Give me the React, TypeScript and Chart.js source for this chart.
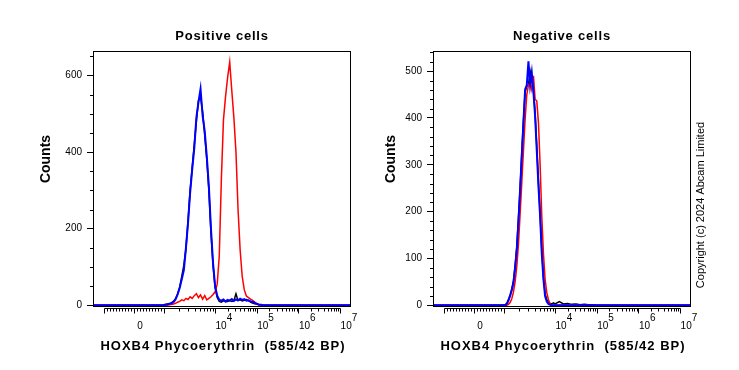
import React, { useEffect, useRef } from "react";
import { Chart, registerables } from "chart.js";

Chart.register(...registerables);

const FONT = "'Liberation Sans', Arial, Helvetica, sans-serif";

// ---- Display axis (logicle-like): positions expressed in "decades" ----
const X_MIN = 1.07;
const X_MAX = 7.26;
const ZERO_POS = 2.056; // display position of 0
const K1_POS = 2.776; // display position of 10^3

const xTickValues = [ZERO_POS, 4, 5, 6, 7];
// two-line labels: raised exponent line, then the base line
const xTickExponents = ["", "4", "5", "6", "7"];
const xTickBases = ["0", "10", "10", "10", "10"];
const xMajorMarks = [-1000, 0, 1000, 1e4, 1e5, 1e6, 1e7];

// ---- Positive cells ----
const posBins = [2.75, 2.8, 2.85, 2.9, 2.95, 3.0, 3.05, 3.1, 3.15, 3.2, 3.25, 3.3, 3.35, 3.4, 3.45, 3.5, 3.55, 3.6, 3.65, 3.7, 3.75, 3.8, 3.85, 3.9, 3.95, 4.0, 4.05, 4.1, 4.15, 4.2, 4.25, 4.3, 4.35, 4.4, 4.45, 4.5, 4.55, 4.6, 4.65, 4.7, 4.75, 4.8, 4.85, 4.9, 4.95, 5.0, 5.05, 5.1, 5.15, 5.2];
const posBlue = [0, 1, 2, 4, 5, 8, 15, 28, 45, 68, 92, 150, 215, 293, 355, 410, 490, 530, 565, 495, 455, 389, 310, 200, 110, 50, 25, 14, 12, 15, 10, 14, 12, 16, 11, 15, 13, 17, 14, 16, 12, 13, 10, 9, 6, 4, 2, 1, 0, 0];
const posBlack = [0, 2, 3, 3, 6, 10, 17, 30, 48, 75, 105, 148, 220, 300, 360, 420, 480, 535, 545, 505, 445, 380, 300, 190, 105, 45, 20, 10, 8, 12, 9, 10, 12, 10, 12, 30, 12, 14, 11, 13, 15, 12, 8, 6, 4, 3, 1, 0, 0, 0];
const posRed = [0, 0, 0, 1, 2, 3, 5, 8, 10, 14, 12, 18, 15, 22, 18, 25, 30, 20, 27, 16, 25, 14, 18, 22, 28, 35, 55, 130, 330, 484, 545, 595, 635, 560, 490, 400, 250, 145, 75, 40, 24, 20, 16, 13, 8, 3, 1, 0, 0, 0];
const posYMajor = [0, 200, 400, 600];
const posYMinorStep = 50;

// ---- Negative cells ----
const negBins = [2.7, 2.8, 2.84, 2.88, 2.92, 2.96, 3.0, 3.04, 3.08, 3.12, 3.16, 3.2, 3.24, 3.28, 3.32, 3.36, 3.4, 3.44, 3.48, 3.52, 3.56, 3.6, 3.64, 3.68, 3.72, 3.76, 3.8, 3.84, 3.88, 3.92, 3.96, 4.0, 4.1, 4.2, 4.3, 4.4, 4.5, 4.6, 4.7, 4.8, 4.9, 5.0, 5.1];
const negBlue = [0, 0, 3, 10, 20, 32, 48, 80, 119, 180, 247, 320, 390, 461, 470, 521, 470, 497, 455, 404, 330, 255, 190, 110, 55, 19, 8, 3, 1, 0, 0, 0, 0, 0, 0, 0, 0, 0, 0, 0, 0, 0, 0];
const negRed = [0, 0, 0, 2, 6, 14, 28, 50, 83, 130, 195, 262, 330, 397, 450, 470, 476, 460, 490, 440, 436, 390, 300, 190, 110, 55, 27, 12, 3, 0, 0, 0, 0, 0, 0, 0, 0, 0, 0, 0, 0, 0, 0];
const negBlack = [0, 1, 4, 12, 22, 35, 52, 85, 125, 185, 250, 325, 395, 455, 468, 470, 500, 480, 462, 410, 340, 265, 195, 120, 60, 25, 12, 6, 4, 3, 5, 3, 8, 3, 4, 2, 3, 1, 2, 1, 1, 0, 0];
const negYMajor = [0, 100, 200, 300, 400, 500];
const negYMinorStep = 20;

function dispPos(v: number): number {
  if (Math.abs(v) <= 1000) return ZERO_POS + (v / 1000) * (K1_POS - ZERO_POS);
  if (v < 1e4) return K1_POS + (Math.log10(v) - 3) * (4 - K1_POS);
  return Math.log10(v);
}

function xMinorMarks(): number[] {
  const out: number[] = [];
  for (let v = -900; v <= 900; v += 100) if (v !== 0) out.push(v);
  for (let k = 3; k < 7; k++) for (let m = 2; m <= 9; m++) out.push(m * Math.pow(10, k));
  return out;
}

type Panel = {
  title: string;
  bins: number[];
  blue: number[];
  red: number[];
  black: number[];
  yMin: number;
  yMax: number;
  yMajor: number[];
  yMinorStep: number;
  countsX: number;
  padRight: number;
  copyright: boolean;
};

function series(bins: number[], vals: number[]) {
  return [{ x: X_MIN, y: 0 }, ...bins.map((x, i) => ({ x, y: vals[i] })), { x: X_MAX, y: 0 }];
}

function makeDecor(p: Panel) {
  return {
    id: "decor",
    afterDraw(chart: any) {
      const { ctx, chartArea: a, scales } = chart;
      const xs = scales.x;
      const ys = scales.y;
      ctx.save();
      ctx.strokeStyle = "#000";
      ctx.lineWidth = 1;
      // plot frame
      ctx.strokeRect(a.left + 0.5, a.top + 0.5, a.right - a.left - 1, a.bottom - a.top);
      // y minor ticks
      ctx.beginPath();
      for (let v = p.yMinorStep; v < p.yMax; v += p.yMinorStep) {
        if (p.yMajor.includes(v)) continue;
        const y = Math.round(ys.getPixelForValue(v)) + 0.5;
        ctx.moveTo(a.left - 3, y);
        ctx.lineTo(a.left, y);
      }
      ctx.stroke();
      // x axis below the frame
      const yA = a.bottom + 2.5;
      const xl = Math.round(xs.getPixelForValue(dispPos(-1000))) + 0.5;
      const xr = Math.round(xs.getPixelForValue(dispPos(1e7))) + 0.5;
      ctx.beginPath();
      ctx.moveTo(xl, yA);
      ctx.lineTo(xr, yA);
      for (const v of xMajorMarks) {
        const x = Math.round(xs.getPixelForValue(dispPos(v))) + 0.5;
        ctx.moveTo(x, yA);
        ctx.lineTo(x, yA + 5);
      }
      for (const v of xMinorMarks()) {
        const x = Math.round(xs.getPixelForValue(dispPos(v))) + 0.5;
        ctx.moveTo(x, yA);
        ctx.lineTo(x, yA + 3);
      }
      ctx.stroke();

      const cx = (a.left + a.right) / 2;
      ctx.fillStyle = "#000";
      // panel title
      ctx.font = `bold 13px ${FONT}`;
      (ctx as any).letterSpacing = "0.8px";
      ctx.textAlign = "center";
      ctx.textBaseline = "alphabetic";
      ctx.fillText(p.title, cx, 39.5);
      // x title
      (ctx as any).letterSpacing = "1px";
      ctx.fillText("HOXB4 Phycoerythrin  (585/42 BP)", cx + 1, 350);
      // y title
      (ctx as any).letterSpacing = "0px";
      ctx.save();
      ctx.translate(p.countsX, 159);
      ctx.rotate(-Math.PI / 2);
      ctx.font = `bold 14px ${FONT}`;
      ctx.fillText("Counts", 0, 0);
      ctx.restore();
      if (p.copyright) {
        ctx.save();
        ctx.translate(a.right + 10, 205);
        ctx.rotate(-Math.PI / 2);
        ctx.font = `11px ${FONT}`;
        ctx.textBaseline = "middle";
        ctx.fillText("Copyright (c) 2024 Abcam Limited", 0, 0);
        ctx.restore();
      }
      ctx.restore();
    },
  };
}

function xLabel(i: number): string[] {
  const exp = xTickExponents[i];
  // exponent sits just to the right of the "10", one short line above it
  return [exp ? "      " + exp : "", xTickBases[i]];
}

function makeConfig(p: Panel): any {
  const line = (color: string, w: number, vals: number[]) => ({
    data: series(p.bins, vals),
    borderColor: color,
    borderWidth: w,
    pointRadius: 0,
    tension: 0,
    fill: false,
  });
  return {
    type: "line",
    data: {
      datasets: [line("#0000ff", 2, p.blue), line("#ff0000", 1.5, p.red), line("#000000", 1.5, p.black)],
    },
    options: {
      responsive: false,
      animation: false,
      events: [],
      layout: { padding: { left: 0, top: 51, right: p.padRight, bottom: 24 } },
      plugins: { legend: { display: false }, tooltip: { enabled: false }, title: { display: false } },
      scales: {
        x: {
          type: "linear",
          min: X_MIN,
          max: X_MAX,
          afterFit: (s: any) => {
            s.height = 40;
          },
          afterBuildTicks: (s: any) => {
            s.ticks = xTickValues.map((v) => ({ value: v }));
          },
          grid: { display: false, drawTicks: false },
          border: { display: false },
          ticks: {
            autoSkip: false,
            maxRotation: 0,
            padding: 8,
            labelOffset: 6,
            color: "#000",
            font: { family: FONT, size: 10, lineHeight: 0.8 },
            callback: (_v: number, i: number) => xLabel(i),
          },
        },
        y: {
          type: "linear",
          min: p.yMin,
          max: p.yMax,
          afterFit: (s: any) => {
            s.width = 93;
          },
          afterBuildTicks: (s: any) => {
            s.ticks = p.yMajor.map((v) => ({ value: v }));
          },
          grid: { drawOnChartArea: false, drawTicks: true, tickLength: 6, color: "#000" },
          border: { display: true, color: "#000" },
          ticks: { autoSkip: false, padding: 5, color: "#000", font: { family: FONT, size: 10 } },
        },
      },
    },
    plugins: [makeDecor(p)],
  };
}

const positivePanel: Panel = {
  title: "Positive cells",
  bins: posBins,
  blue: posBlue,
  red: posRed,
  black: posBlack,
  yMin: -2,
  yMax: 664,
  yMajor: posYMajor,
  yMinorStep: posYMinorStep,
  countsX: 49.5,
  padRight: 19,
  copyright: false,
};

const negativePanel: Panel = {
  title: "Negative cells",
  bins: negBins,
  blue: negBlue,
  red: negRed,
  black: negBlack,
  yMin: -1.5,
  yMax: 543,
  yMajor: negYMajor,
  yMinorStep: negYMinorStep,
  countsX: 55,
  padRight: 48,
  copyright: true,
};

export default function App() {
  const leftRef = useRef<HTMLCanvasElement>(null);
  const rightRef = useRef<HTMLCanvasElement>(null);
  useEffect(() => {
    const c1 = new Chart(leftRef.current as HTMLCanvasElement, makeConfig(positivePanel));
    const c2 = new Chart(rightRef.current as HTMLCanvasElement, makeConfig(negativePanel));
    return () => {
      c1.destroy();
      c2.destroy();
    };
  }, []);
  return (
    <div style={{ position: "absolute", left: 0, top: 0, width: 739, height: 370, background: "#fff", overflow: "hidden" }}>
      <canvas ref={leftRef} width={370} height={370} style={{ position: "absolute", left: 0, top: 0 }} />
      <canvas ref={rightRef} width={399} height={370} style={{ position: "absolute", left: 340, top: 0 }} />
    </div>
  );
}
